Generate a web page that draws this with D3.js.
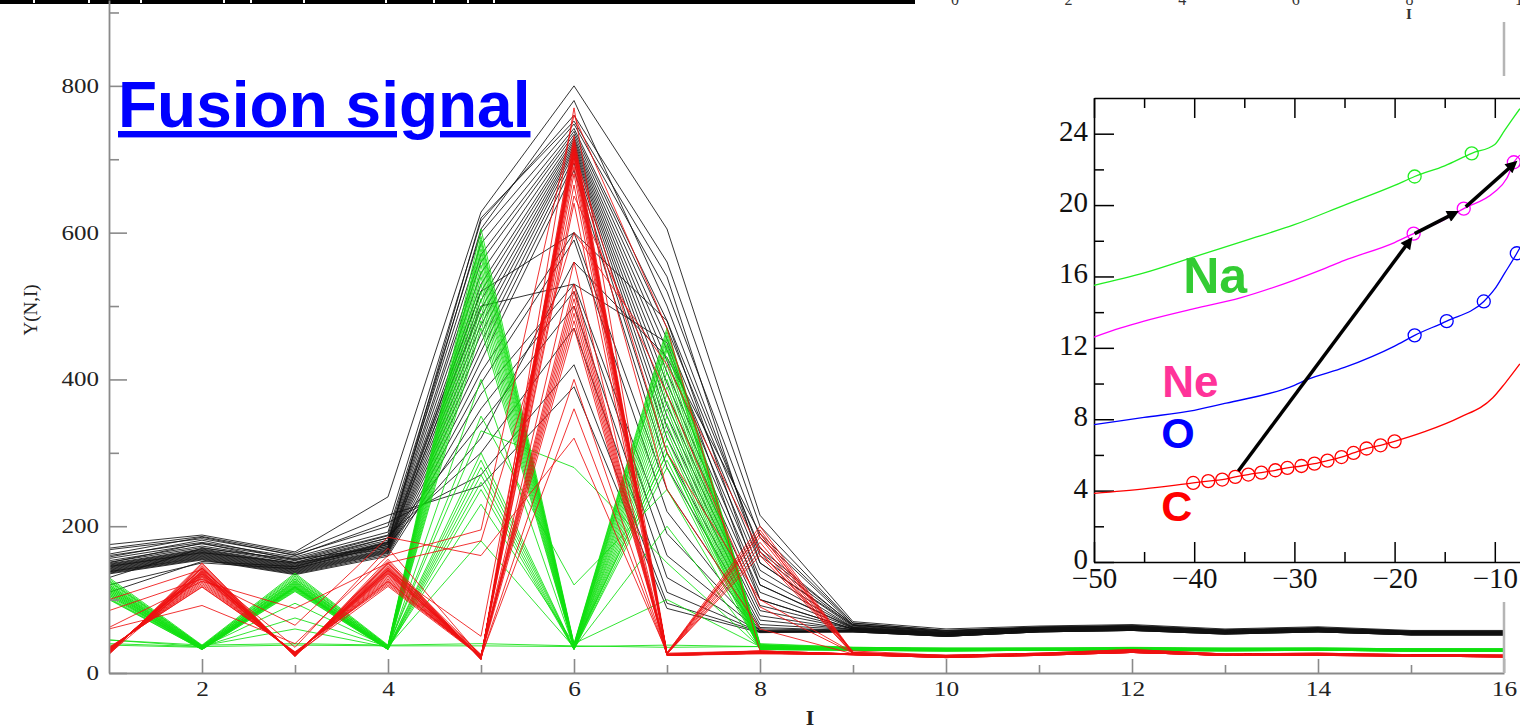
<!DOCTYPE html>
<html>
<head>
<meta charset="utf-8">
<script src="https://cdn.jsdelivr.net/npm/d3@7"></script>
<style>
  body { margin: 0; background: #fff; }
  svg { display: block; }
</style>
</head>
<body>
<svg width="1520" height="727"></svg>
<script>
// ---- main chart data: Y(N,I) for each nucleus, I = 1..16
const iValues = [1, 2, 3, 4, 5, 6, 7, 8, 9, 10, 11, 12, 13, 14, 15, 16];
const mainXTicks = [2, 4, 6, 8, 10, 12, 14, 16];
const mainXMinor = [3, 5, 7, 9, 11, 13, 15];
const mainYTicks = [0, 200, 400, 600, 800];
const mainYMinor = [100, 300, 500, 700, 900];

const blackRuns = [
  [175,188,165,240,628,800,605,215,70,60,64,66,60,63,58,58],
  [168,183,161,200,616,760,560,200,68,58,63,65,59,62,57,57],
  [160,178,158,192,600,748,520,185,66,57,62,64,58,61,57,56],
  [156,176,156,188,585,742,480,170,65,56,62,64,58,61,56,56],
  [153,173,153,184,570,738,470,160,64,55,61,63,57,60,56,55],
  [151,171,151,181,560,734,455,150,63,55,61,63,57,60,56,55],
  [149,169,149,179,545,730,440,140,62,54,60,62,57,60,55,55],
  [147,167,147,177,530,727,425,130,62,54,60,62,56,59,55,55],
  [146,166,146,176,520,724,410,120,61,54,60,62,56,59,55,55],
  [145,165,145,175,508,721,395,110,61,53,59,61,56,59,55,54],
  [144,164,144,173,496,718,380,100,60,53,59,61,56,59,54,54],
  [143,163,143,171,485,715,365,92,60,53,59,61,56,58,54,54],
  [142,162,142,169,474,712,350,85,60,52,59,61,55,58,54,54],
  [141,161,141,168,462,708,335,78,59,52,58,60,55,58,54,54],
  [140,160,140,167,450,702,320,72,59,52,58,60,55,58,54,54],
  [139,159,139,166,438,695,300,66,59,52,58,60,55,58,53,53],
  [138,158,138,165,425,685,280,62,58,51,58,60,55,57,53,53],
  [138,157,137,164,410,600,250,60,58,51,57,59,54,57,53,53],
  [137,156,136,163,395,590,220,58,58,51,57,59,54,57,53,53],
  [136,155,135,161,380,530,190,57,57,51,57,59,54,57,53,53],
  [135,154,134,159,360,520,160,57,57,50,57,59,54,57,52,52],
  [150,177,150,184,340,500,130,56,57,50,56,58,54,56,52,52],
  [158,181,154,187,300,470,110,56,56,50,56,58,53,56,52,52],
  [162,185,160,205,270,420,95,56,56,50,56,58,53,56,52,52],
  [170,186,163,215,255,390,88,55,56,50,56,58,53,56,52,52],
  [120,150,142,175,320,560,430,190,68,58,62,63,58,61,56,56],
  [110,152,145,178,605,780,500,165,66,57,62,64,58,61,57,57],
  [148,168,148,178,620,752,540,150,65,56,61,63,57,60,56,56],
  [130,170,155,172,520,600,480,120,62,55,60,62,57,60,55,55],
  [145,164,150,170,500,530,450,100,60,54,59,61,56,59,54,54]
];

const greenRuns = [
  [130,38,136,38,605,40,470,40,35,34,34,35,34,34,33,33],
  [128,37,134,37,595,39,465,39,35,34,34,34,34,34,33,33],
  [126,37,132,37,590,38,460,38,34,33,34,34,33,34,33,33],
  [124,36,130,36,585,38,455,38,34,33,33,34,33,33,33,32],
  [122,36,128,36,578,37,448,37,34,33,33,34,33,33,32,32],
  [120,35,126,35,572,37,440,37,34,33,33,34,33,33,32,32],
  [118,35,124,35,565,36,430,36,33,32,33,33,33,33,32,32],
  [116,35,122,35,556,36,420,36,33,32,33,33,32,33,32,32],
  [114,34,120,34,548,36,410,36,33,32,33,33,32,33,32,32],
  [112,34,118,34,540,35,400,35,33,32,32,33,32,32,32,31],
  [110,34,117,34,530,35,390,35,33,32,32,33,32,32,31,31],
  [108,33,116,33,520,35,380,35,33,31,32,33,32,32,31,31],
  [106,33,115,33,510,34,370,34,32,31,32,32,32,32,31,31],
  [104,33,114,33,500,34,360,34,32,31,32,32,31,32,31,31],
  [102,33,113,33,490,34,350,34,32,31,32,32,31,32,31,31],
  [101,32,112,32,480,33,340,33,32,31,31,32,31,31,31,30],
  [100,32,111,32,470,33,330,33,32,31,31,32,31,31,30,30],
  [118,34,125,34,300,33,320,33,32,31,31,32,31,31,30,30],
  [116,34,123,34,290,33,310,33,32,31,31,32,31,31,30,30],
  [114,33,121,33,280,33,300,33,32,31,31,32,31,31,30,30],
  [112,33,119,33,270,32,290,32,31,30,31,31,31,31,30,30],
  [110,33,118,33,260,32,280,32,31,30,31,31,30,31,30,30],
  [108,32,117,32,250,32,445,32,31,30,31,31,30,31,30,30],
  [106,32,116,32,400,34,200,34,31,30,31,31,30,31,30,30],
  [45,36,75,36,180,35,300,38,33,32,32,33,32,32,31,31],
  [38,35,95,35,230,40,100,36,33,32,32,33,32,32,31,31],
  [40,36,38,37,37,36,38,36,34,33,33,33,32,32,31,31],
  [125,37,60,35,350,120,250,35,33,32,32,33,32,32,31,31],
  [45,38,40,38,40,37,35,36,34,33,33,34,33,33,32,32],
  [120,36,128,36,330,280,150,35,33,32,32,33,32,32,31,31]
];

const redRuns = [
  [25,150,22,155,18,770,27,30,26,24,27,32,26,27,25,24],
  [26,148,23,152,18,732,27,200,28,24,27,32,26,27,25,24],
  [27,146,23,150,19,726,26,195,27,24,27,31,26,27,25,24],
  [28,144,24,148,19,722,26,190,27,23,26,31,26,26,25,24],
  [28,142,24,146,19,719,26,185,27,23,26,31,25,26,25,24],
  [29,140,25,144,20,716,26,178,27,23,26,31,25,26,24,24],
  [29,138,25,142,20,713,26,172,26,23,26,30,25,26,24,23],
  [30,136,25,140,20,710,26,165,26,23,26,30,25,26,24,23],
  [30,134,26,138,20,707,26,30,26,22,26,30,25,26,24,23],
  [31,132,26,136,21,703,25,30,26,22,26,30,25,26,24,23],
  [31,130,26,134,21,698,25,29,26,22,26,30,25,26,24,23],
  [32,128,27,132,21,690,25,29,26,22,26,29,25,25,24,23],
  [32,126,27,130,22,680,25,29,26,22,25,29,25,25,24,23],
  [33,124,27,128,22,665,25,28,26,22,25,29,24,25,24,23],
  [33,122,28,126,22,640,25,28,25,22,25,29,24,25,24,23],
  [34,120,28,124,23,560,25,28,25,22,25,29,24,25,23,22],
  [34,118,28,122,23,530,25,28,25,22,25,28,24,25,23,22],
  [35,117,29,120,23,520,24,27,25,21,25,28,24,25,23,22],
  [30,131,26,135,24,510,24,27,25,21,25,28,24,24,23,22],
  [30,135,26,139,24,500,24,27,25,21,24,28,24,24,23,22],
  [28,139,25,143,25,490,24,27,25,21,24,28,24,24,23,22],
  [27,143,24,149,25,480,24,27,25,21,24,28,24,24,23,22],
  [29,137,25,118,22,470,24,26,25,21,24,28,24,24,23,22],
  [26,133,24,125,21,400,26,160,26,22,24,28,24,24,23,22],
  [60,92,40,160,195,760,470,30,26,24,26,30,25,26,24,24],
  [85,128,65,185,160,320,28,190,28,23,26,30,25,26,24,24],
  [100,141,35,170,22,360,26,27,26,23,26,30,25,26,24,24],
  [62,125,88,150,180,600,420,165,30,24,26,30,25,26,24,24],
  [28,143,24,140,50,712,300,100,28,23,26,31,25,26,24,24],
  [30,138,25,141,21,650,380,90,27,23,26,30,25,26,24,24],
  [31,135,26,137,22,705,250,60,26,23,26,30,25,26,24,24]
];

// ---- inset data: energy curves of C, O, Ne, Na
const insetXTicks = [-50, -40, -30, -20, -10];
const insetXMinor = [-45, -35, -25, -15];
const insetYTicks = [0, 4, 8, 12, 16, 20, 24];
const insetYMinor = [2, 6, 10, 14, 18, 22];

const naCurve = [[-50,15.5],[-45,16.2],[-40,17.1],[-35,18.0],[-30,18.9],[-25,20.0],[-20,21.1],[-18,21.6],[-15,22.2],[-12.3,22.9],[-10,23.4],[-9,24.2],[-7.5,25.4]];
const naMarks = [[-18,21.6],[-12.3,22.9]];
const neCurve = [[-50,12.6],[-47.4,13.1],[-45,13.5],[-40,14.2],[-35.4,14.8],[-30,15.8],[-27.2,16.4],[-25,16.9],[-20,17.9],[-18.1,18.4],[-15,19.2],[-13.1,19.8],[-10.1,20.7],[-8.8,21.5],[-8.1,22.4],[-7.5,22.8]];
const neMarks = [[-18.1,18.4],[-13.1,19.8],[-8.1,22.4]];
const oCurve = [[-50,7.7],[-45,8.1],[-40,8.5],[-36.8,8.9],[-30,9.9],[-28.8,10.2],[-25,10.9],[-20,12.1],[-18,12.7],[-14.8,13.5],[-11.1,14.6],[-10,15.3],[-9,16.2],[-7.8,17.3],[-7.5,17.6]];
const oMarks = [[-18,12.7],[-14.8,13.5],[-11.1,14.6],[-7.8,17.3]];
const cHead = [[-50,3.85],[-45,4.1]];
const cMarks = [[-40.1,4.43],[-38.6,4.53],[-37.2,4.62],[-35.9,4.77],[-34.6,4.90],[-33.3,5.01],[-31.9,5.14],[-30.7,5.27],[-29.3,5.38],[-28.0,5.51],[-26.7,5.68],[-25.3,5.88],[-24.1,6.11],[-22.8,6.36],[-21.4,6.54],[-20.0,6.76]];
const cTail = [[-17,7.3],[-13.5,8.1],[-10.2,9.2],[-9,10.0],[-7.5,11.1]];
const arrowSegs = [
  [[-35.6,5.1],[-18.5,18.0]],
  [[-18.0,18.4],[-14.0,19.55]],
  [[-12.9,19.9],[-8.1,22.3]]
];

// cropped strip of the figure above
const stripTicks = [0, 2, 4, 6, 8, 10];
const stripNotches = [33, 88, 140, 223, 250, 303, 385, 433, 467, 493];

const svg = d3.select("svg");
const serif = "'Liberation Serif', 'Times New Roman', serif";
const sans = "'Liberation Sans', Arial, sans-serif";

const x = d3.scaleLinear().domain([1, 16]).range([109, 1504]);
const y = d3.scaleLinear().domain([0, 917]).range([673, 0]);

// top strip (bottom edge of the figure above, cropped by the frame)
svg.append("rect").attr("x", 0).attr("y", 0).attr("width", 915).attr("height", 4).attr("fill", "#000");
svg.selectAll(".notch").data(stripNotches).enter().append("rect")
  .attr("x", d => d).attr("y", 0).attr("width", 2).attr("height", 3).attr("fill", "#fff");
const sx = d3.scaleLinear().domain([0, 10]).range([955, 1523]);
svg.selectAll(".stick").data(stripTicks).enter().append("text")
  .attr("x", d => sx(d)).attr("y", 5)
  .attr("text-anchor", "middle")
  .attr("font-family", serif).attr("font-size", 16).attr("fill", "#333")
  .text(d => d);
svg.append("text").attr("x", 1409).attr("y", 19).attr("text-anchor", "middle")
  .attr("font-family", serif).attr("font-weight", "bold").attr("font-size", 15).attr("fill", "#333").text("I");

// main lines
const line = d3.line().x((d, i) => x(iValues[i])).y(d => y(d));
const drawRuns = (runs, color) => {
  svg.append("g").selectAll("path").data(runs).enter().append("path")
    .attr("d", line)
    .attr("fill", "none")
    .attr("stroke", color)
    .attr("stroke-width", 1)
    .attr("stroke-opacity", 0.85);
};
drawRuns(blackRuns, "#111");
drawRuns(greenRuns, "#10e010");
drawRuns(redRuns, "#ee1010");

// main axes
const axisColor = "#8a8a8a";
const styleAxis = (g, fs, sc) => {
  g.selectAll(".domain").attr("stroke", axisColor).attr("stroke-width", 1.8);
  g.selectAll(".tick line").attr("stroke", axisColor).attr("stroke-width", 1.6);
  g.selectAll("text").attr("font-family", serif).attr("font-size", fs)
    .attr("fill", "#222").attr("transform", `scale(${sc},1)`);
};
const yAxisG = svg.append("g").attr("transform", "translate(109,0)")
  .call(d3.axisLeft(y).tickValues(mainYTicks).tickSize(-18).tickSizeOuter(0).tickPadding(8));
styleAxis(yAxisG, 20, 1.25);
const yMinorG = svg.append("g").attr("transform", "translate(109,0)")
  .call(d3.axisLeft(y).tickValues(mainYMinor).tickSize(-10).tickFormat(""));
yMinorG.select(".domain").remove();
styleAxis(yMinorG, 20, 1);

const xAxisG = svg.append("g").attr("transform", "translate(0,673)")
  .call(d3.axisBottom(x).tickValues(mainXTicks).tickSize(-14).tickSizeOuter(0).tickPadding(7));
styleAxis(xAxisG, 22, 1.15);
const xMinorG = svg.append("g").attr("transform", "translate(0,673)")
  .call(d3.axisBottom(x).tickValues(mainXMinor).tickSize(-8).tickFormat(""));
xMinorG.select(".domain").remove();
styleAxis(xMinorG, 22, 1);

svg.append("line").attr("x1", x(16)).attr("x2", x(16)).attr("y1", 22).attr("y2", 673)
  .attr("stroke", "#b5b5b5").attr("stroke-width", 2.5);

svg.append("text").attr("x", 810).attr("y", 717)
  .attr("text-anchor", "middle").attr("dominant-baseline", "central")
  .attr("font-family", serif).attr("font-weight", "bold").attr("font-size", 22).attr("fill", "#222")
  .text("I");
svg.append("text").attr("transform", "translate(30,310) rotate(-90)")
  .attr("text-anchor", "middle").attr("dominant-baseline", "central")
  .attr("font-family", serif).attr("font-size", 19).attr("fill", "#222")
  .text("Y(N,I)");

svg.append("text").attr("x", 118).attr("y", 127)
  .attr("font-family", sans).attr("font-weight", "bold").attr("font-size", 64)
  .attr("fill", "#0000ff").attr("text-decoration", "underline")
  .text("Fusion signal");

// ---- inset
const ix = d3.scaleLinear().domain([-50, 0]).range([1094, 1595]);
const iy = d3.scaleLinear().domain([0, 26]).range([562, 98]);

svg.append("rect").attr("x", 1040).attr("y", 76).attr("width", 480).attr("height", 526).attr("fill", "#fff");

const styleInset = g => {
  g.selectAll(".domain").attr("stroke", "#000").attr("stroke-width", 1.6);
  g.selectAll(".tick line").attr("stroke", "#000").attr("stroke-width", 1.5);
  g.selectAll("text").attr("font-family", serif).attr("font-size", 29).attr("fill", "#111");
};
const iLeft = svg.append("g").attr("transform", "translate(1094,0)")
  .call(d3.axisLeft(iy).tickValues(insetYTicks).tickSize(-20).tickSizeOuter(0).tickPadding(6));
styleInset(iLeft);
iLeft.selectAll("text").attr("dy", "0.22em");
const iLeftMinor = svg.append("g").attr("transform", "translate(1094,0)")
  .call(d3.axisLeft(iy).tickValues(insetYMinor).tickSize(-10).tickFormat(""));
iLeftMinor.select(".domain").remove();
styleInset(iLeftMinor);

const iBottom = svg.append("g").attr("transform", "translate(0,562)")
  .call(d3.axisBottom(ix).tickValues(insetXTicks).tickSize(-20).tickSizeOuter(0).tickPadding(5));
styleInset(iBottom);
const iBottomMinor = svg.append("g").attr("transform", "translate(0,562)")
  .call(d3.axisBottom(ix).tickValues(insetXMinor).tickSize(-10).tickFormat(""));
iBottomMinor.select(".domain").remove();
styleInset(iBottomMinor);

const iTop = svg.append("g").attr("transform", "translate(0,98)")
  .call(d3.axisTop(ix).tickValues(insetXTicks).tickSize(-20).tickSizeOuter(0).tickFormat(""));
styleInset(iTop);
const iTopMinor = svg.append("g").attr("transform", "translate(0,98)")
  .call(d3.axisTop(ix).tickValues(insetXMinor).tickSize(-10).tickFormat(""));
iTopMinor.select(".domain").remove();
styleInset(iTopMinor);

const iline = d3.line().x(d => ix(d[0])).y(d => iy(d[1])).curve(d3.curveMonotoneX);
const curves = [
  { pts: naCurve, marks: naMarks, color: "#22ee22" },
  { pts: neCurve, marks: neMarks, color: "#ff00ff" },
  { pts: oCurve, marks: oMarks, color: "#0000ff" },
  { pts: cHead.concat(cMarks, cTail), marks: cMarks, color: "#ff0000" }
];
curves.forEach(c => {
  svg.append("path").attr("d", iline(c.pts))
    .attr("fill", "none").attr("stroke", c.color).attr("stroke-width", 1.3);
  svg.append("g").selectAll("circle").data(c.marks).enter().append("circle")
    .attr("cx", d => ix(d[0])).attr("cy", d => iy(d[1])).attr("r", 6.5)
    .attr("fill", "none").attr("stroke", c.color).attr("stroke-width", 1.3);
});

svg.append("defs").append("marker")
  .attr("id", "ah").attr("viewBox", "0 0 10 10").attr("refX", 6).attr("refY", 5)
  .attr("markerUnits", "userSpaceOnUse").attr("markerWidth", 16).attr("markerHeight", 12)
  .attr("orient", "auto")
  .append("path").attr("d", "M0,0L10,5L0,10z").attr("fill", "#000");

svg.append("g").selectAll("line").data(arrowSegs).enter().append("line")
  .attr("x1", d => ix(d[0][0])).attr("y1", d => iy(d[0][1]))
  .attr("x2", d => ix(d[1][0])).attr("y2", d => iy(d[1][1]))
  .attr("stroke", "#000").attr("stroke-width", 3.5)
  .attr("marker-end", "url(#ah)");

const elementLabels = [
  { t: "Na", at: [-41.1, 15.07], color: "#33cc33", fs: 50 },
  { t: "Ne", at: [-43.2, 9.24], color: "#ff3399", fs: 44 },
  { t: "O", at: [-43.3, 6.39], color: "#0000ff", fs: 43 },
  { t: "C", at: [-43.3, 2.3], color: "#ff0000", fs: 43 }
];
svg.append("g").selectAll("text").data(elementLabels).enter().append("text")
  .attr("x", d => ix(d.at[0])).attr("y", d => iy(d.at[1]))
  .attr("font-family", sans).attr("font-weight", "bold")
  .attr("font-size", d => d.fs).attr("fill", d => d.color)
  .text(d => d.t);
</script>
</body>
</html>
